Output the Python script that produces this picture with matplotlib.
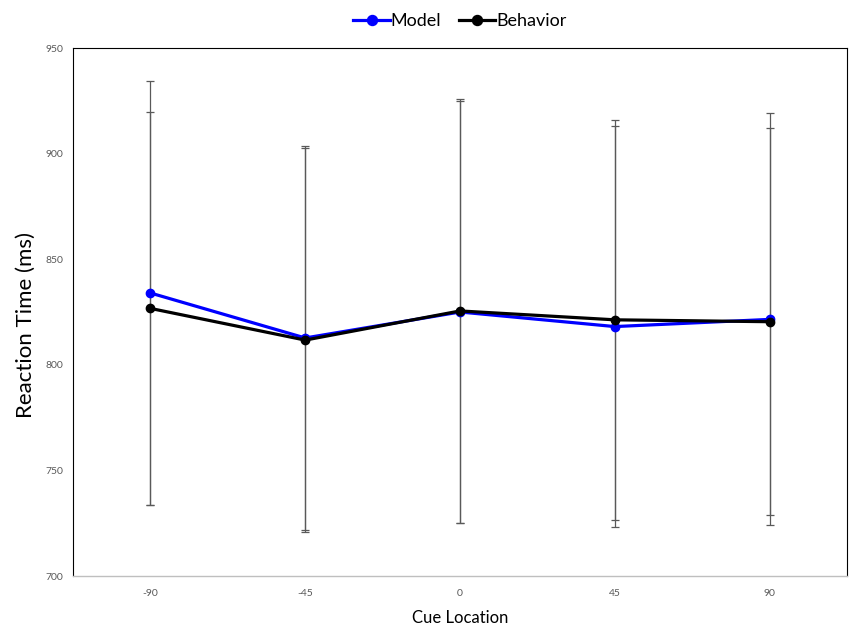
import matplotlib
matplotlib.use("Agg")
import matplotlib.pyplot as plt

cue_locations = ["-90", "-45", "0", "45", "90"]
model_rt = [834.0, 812.7, 825.0, 818.1, 821.5]
model_err = [100.4, 91.0, 100.0, 95.0, 97.5]
behavior_rt = [826.7, 811.7, 825.5, 821.3, 820.4]
behavior_err = [93.0, 91.0, 100.5, 94.6, 91.6]

plt.rcParams["font.family"] = ["Lato", "DejaVu Sans"]

fig = plt.figure(figsize=(8.6, 6.29), dpi=100)
ax = fig.add_axes([73 / 860, 1 - 576 / 629, 774 / 860, 528 / 629])

x = list(range(len(cue_locations)))
err_color = "#595959"

ax.errorbar(x, model_rt, yerr=model_err, fmt="none", ecolor=err_color,
            elinewidth=0.9, capsize=3.0, capthick=0.9, zorder=2)
ax.errorbar(x, behavior_rt, yerr=behavior_err, fmt="none", ecolor=err_color,
            elinewidth=0.9, capsize=3.0, capthick=0.9, zorder=2)

ax.plot(x, model_rt, color="#0000FF", lw=2.3, marker="o", markersize=6,
        label="Model", zorder=3)
ax.plot(x, behavior_rt, color="black", lw=2.3, marker="o", markersize=6,
        label="Behavior", zorder=4)

ax.set_xlim(-0.5, len(x) - 0.5)
ax.set_ylim(700, 950)
ax.set_yticks([700, 750, 800, 850, 900, 950])
ax.set_xticks(x)
ax.set_xticklabels(cue_locations)
ax.tick_params(axis="y", length=0, labelsize=7.5, labelcolor="#595959", pad=7)
ax.tick_params(axis="x", length=0, labelsize=7.5, labelcolor="#595959", pad=9)

for side in ["top", "left", "right"]:
    ax.spines[side].set_color("black")
    ax.spines[side].set_linewidth(0.8)
ax.spines["bottom"].set_color("#BFBFBF")
ax.spines["bottom"].set_linewidth(1.0)

ax.set_ylabel("Reaction Time (ms)", fontsize=16)
ax.yaxis.set_label_coords(-0.048, 0.475)
ax.set_xlabel("Cue Location", fontsize=12, labelpad=9)

ax.legend(loc="lower center", bbox_to_anchor=(0.5, 1.015), ncol=2, frameon=False,
          fontsize=13, handlelength=2.0, handletextpad=0.05, columnspacing=1.0,
          borderaxespad=0.2, markerscale=1.2)

fig.savefig("out.png", dpi=100)
